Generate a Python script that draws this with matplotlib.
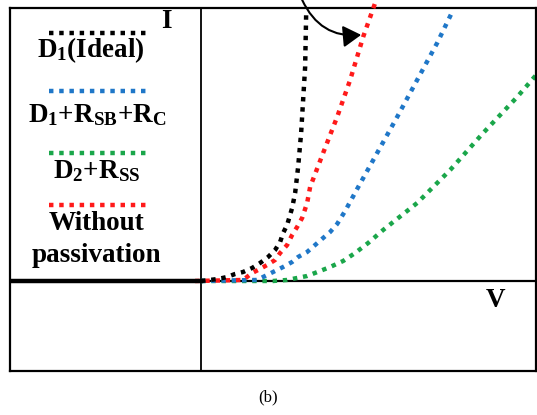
import matplotlib
matplotlib.use('Agg')
import matplotlib.pyplot as plt
from matplotlib.lines import Line2D

plt.rcParams['font.family'] = 'Liberation Serif'
plt.rcParams['mathtext.fontset'] = 'custom'
plt.rcParams['mathtext.rm'] = 'Liberation Serif'
plt.rcParams['mathtext.bf'] = 'Liberation Serif:bold'
plt.rcParams['mathtext.it'] = 'Liberation Serif:italic'

# I-V curves (arbitrary units)
v_ideal = [0, 0.17, 0.26, 0.34, 0.42, 0.51, 0.59, 0.67, 0.74, 0.79, 0.82, 0.86,
           0.91, 0.94, 0.97, 1.00, 1.02, 1.04, 1.05]
i_ideal = [0, 0.02, 0.04, 0.07, 0.09, 0.13, 0.18, 0.24, 0.31, 0.39, 0.48, 0.56,
           0.73, 0.88, 1.14, 1.48, 1.81, 2.14, 2.66]

v_nopass = [-0.06, 0.42, 0.51, 0.57, 0.66, 0.74, 0.79, 0.86, 0.91, 0.96, 1.01,
            1.06, 1.09, 1.22, 1.36, 1.49, 1.62, 1.74]
i_nopass = [0, 0.01, 0.08, 0.11, 0.16, 0.21, 0.28, 0.36, 0.46, 0.54, 0.63,
            0.78, 0.94, 1.28, 1.64, 2.01, 2.44, 2.78]

v_rsb = [0, 0.56, 0.66, 0.74, 0.82, 0.91, 0.97, 1.06, 1.14, 1.22, 1.29, 1.36,
         1.44, 1.56, 1.76, 1.96, 2.16, 2.36, 2.52]
i_rsb = [0, 0.01, 0.06, 0.10, 0.14, 0.19, 0.24, 0.29, 0.36, 0.43, 0.49, 0.57,
         0.70, 0.92, 1.28, 1.64, 2.01, 2.38, 2.71]

v_rss = [0, 0.72, 0.86, 0.96, 1.06, 1.19, 1.29, 1.42, 1.54, 1.67, 1.82, 2.16,
         2.49, 2.82, 3.16, 3.35]
i_rss = [0, 0, 0.01, 0.03, 0.05, 0.10, 0.14, 0.20, 0.28, 0.38, 0.51, 0.78,
         1.11, 1.48, 1.84, 2.06]

# reverse bias part (flat)
v_rev = [-1.91, 0]
i_rev = [0, 0]

labels = [r'$\mathbf{D_1}$(Ideal)',
          r'$\mathbf{D_1}$+$\mathbf{R_{SB}}$+$\mathbf{R_C}$',
          r'$\mathbf{D_2}$+$\mathbf{R_{SS}}$',
          'Without']
label_x = [0.154, 0.165, 0.165, 0.165]
colors = ['black', '#1f77c8', '#1aa64a', '#ff1a1a']

fig = plt.figure(figsize=(5.37, 4.15), dpi=100)
ax = fig.add_axes([0.0186, 0.106, 0.98, 0.875])
ax.set_xlim(-1.91, 3.35)
ax.set_ylim(-0.90, 2.73)
ax.set_xticks([])
ax.set_yticks([])
for s in ax.spines.values():
    s.set_linewidth(1.6)

ax.axhline(0, color='black', lw=1.6, zorder=1)
ax.axvline(0, color='black', lw=1.3, zorder=1)

dot = (0, (1, 1.3))
lw = 3.2
ax.plot(v_rss, i_rss, color=colors[2], lw=lw, ls=dot, zorder=2)
ax.plot(v_rsb, i_rsb, color=colors[1], lw=lw, ls=dot, zorder=3)
ax.plot(v_nopass, i_nopass, color=colors[3], lw=lw, ls=dot, zorder=4, clip_on=False)
ax.plot(v_ideal, i_ideal, color=colors[0], lw=lw, ls=dot, zorder=5)
ax.plot(v_rev, i_rev, color='black', lw=3.2, zorder=6)

# curved arrow pointing at the red curve
ax.annotate('', xy=(1.60, 2.46), xytext=(1.01, 2.81),
            arrowprops=dict(arrowstyle='-|>,head_length=0.5,head_width=0.3',
                            color='black', lw=1.5, mutation_scale=22,
                            shrinkA=0, shrinkB=0,
                            connectionstyle='angle3,angleA=-65,angleB=5'),
            annotation_clip=False)

# legend drawn as line above text
line_y = [0.931, 0.771, 0.601, 0.457]
text_y = [0.865, 0.686, 0.532, 0.388]
for c, lab, lx, ly, ty in zip(colors, labels, label_x, line_y, text_y):
    ax.add_line(Line2D([0.074, 0.259], [ly, ly], transform=ax.transAxes,
                       color=c, lw=lw, ls=dot))
    ax.text(lx, ty, lab, transform=ax.transAxes, ha='center', va='baseline',
            fontsize=19.5, fontweight='bold')
ax.text(0.165, 0.300, 'passivation', transform=ax.transAxes, ha='center',
        va='baseline', fontsize=19.5, fontweight='bold')

ax.text(0.297, 0.945, 'I', transform=ax.transAxes, ha='center', va='baseline',
        fontsize=19.5, fontweight='bold')
ax.text(0.922, 0.176, 'V', transform=ax.transAxes, ha='center', va='baseline',
        fontsize=19.5, fontweight='bold')

fig.text(0.5, 0.043, '(b)', ha='center', va='center', fontsize=12)

fig.savefig('out.png', dpi=100)
